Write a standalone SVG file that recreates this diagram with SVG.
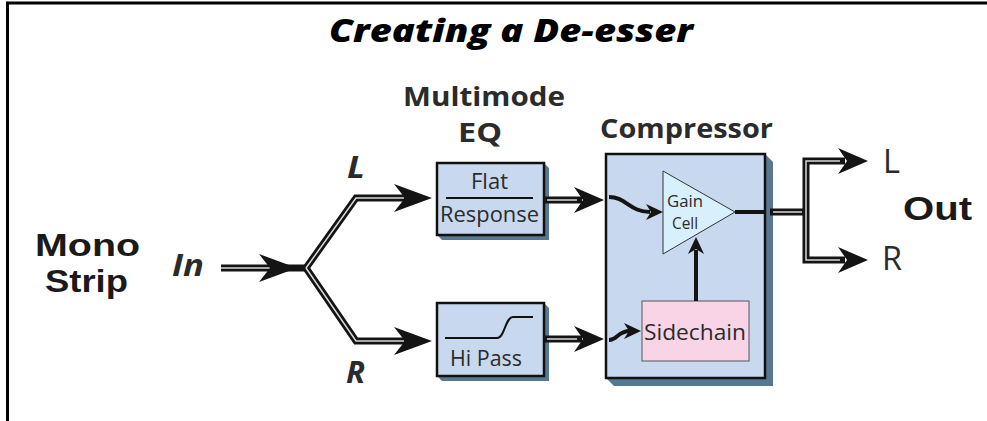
<svg xmlns="http://www.w3.org/2000/svg" xmlns:xlink="http://www.w3.org/1999/xlink" width="987" height="421" viewBox="0 0 987 421">
<style>
.t{font-family:"Open Sans","Liberation Sans",sans-serif;fill:#2b2b2b}
.title{font-size:32px;font-weight:800;font-style:italic;fill:#000}
.hd{font-size:27px;font-weight:700}
.big{font-family:"Liberation Sans","Open Sans",sans-serif;font-size:32px;font-weight:700;fill:#1a1a1a}
.lab{font-size:30px;font-weight:700;font-style:italic}
.out{font-size:33px;font-weight:400}
.box{font-size:21px;font-weight:400}
.sm{font-size:16px;font-weight:400}
.blk{fill:#c8d8ee;stroke:#111;stroke-width:2.5}
.shd{fill:#587891}
.wo{fill:none;stroke:#141414;stroke-width:7;stroke-linejoin:miter}
.wi{fill:none;stroke:#d8d8d8;stroke-width:1.5;stroke-linejoin:miter}
.sw{fill:none;stroke:#141414;stroke-width:4}
.ah{fill:#141414}
</style>
<defs>
<path id="ah" d="M0,0 L-38,-14 L-27,0 L-38,14 Z"/>
<path id="ahm" d="M0,0 L-30,-13 L-21,0 L-30,13 Z"/>
<path id="ahs" d="M0,0 L-17,-8 L-12,0 L-17,8 Z"/>
</defs>

<path d="M7.5,421 V3 H987" fill="none" stroke="#000" stroke-width="3"/>

<g id="title"><text class="t title" x="329" y="42" textLength="364" lengthAdjust="spacingAndGlyphs">Creating a De-esser</text></g>

<g id="mono-in">
<text class="t big" x="35" y="256" textLength="105" lengthAdjust="spacingAndGlyphs">Mono</text>
<text class="t big" x="45" y="292" textLength="83" lengthAdjust="spacingAndGlyphs">Strip</text>
<text class="t lab" x="172" y="276" textLength="32" lengthAdjust="spacingAndGlyphs">In</text>
<text class="t lab" x="347" y="178" textLength="18" lengthAdjust="spacingAndGlyphs">L</text>
<text class="t lab" x="346" y="383" textLength="19" lengthAdjust="spacingAndGlyphs">R</text>
</g>

<g id="eq-label">
<text class="t hd" x="403" y="106" textLength="162" lengthAdjust="spacingAndGlyphs">Multimode</text>
<text class="t hd" x="458" y="142" textLength="44" lengthAdjust="spacingAndGlyphs">EQ</text>
</g>

<g id="eq-flat">
<polygon class="shd" points="544,163 549,168 549,240 442,240 437,235"/>
<rect class="blk" x="437" y="163" width="107" height="72"/>
<text class="t box" x="471" y="189" textLength="37" lengthAdjust="spacingAndGlyphs">Flat</text>
<line x1="446" y1="198" x2="533" y2="198" stroke="#111" stroke-width="2.2"/>
<text class="t box" x="440" y="222" textLength="99" lengthAdjust="spacingAndGlyphs">Response</text>
</g>

<g id="eq-hipass">
<polygon class="shd" points="544,303 549,308 549,381 442,381 437,376"/>
<rect class="blk" x="437" y="303" width="107" height="73"/>
<path d="M445,338 H497 C505,338 505,317 513,317 H533" fill="none" stroke="#111" stroke-width="2"/>
<text class="t box" x="450" y="366" textLength="72" lengthAdjust="spacingAndGlyphs">Hi Pass</text>
</g>

<g id="compressor">
<text class="t hd" x="600" y="138" textLength="173" lengthAdjust="spacingAndGlyphs">Compressor</text>
<polygon class="shd" points="765,154 773,162 773,386 614,386 606,378"/>
<rect class="blk" x="606" y="154" width="159" height="224" stroke-width="3"/>
</g>

<g id="gain-cell">
<polygon points="663,171 735,212 663,254" fill="#d8f0fb" stroke="#333" stroke-width="1"/>
<text class="t sm" x="667" y="207" textLength="36" lengthAdjust="spacingAndGlyphs">Gain</text>
<text class="t sm" x="672" y="229" textLength="26" lengthAdjust="spacingAndGlyphs">Cell</text>
</g>

<g id="sidechain">
<rect x="642" y="301" width="107" height="60" fill="#f9d4e6" stroke="#555" stroke-width="1"/>
<text class="t" x="644" y="340" font-size="22" textLength="102" lengthAdjust="spacingAndGlyphs">Sidechain</text>
</g>

<g id="out-label">
<text class="t out" x="883" y="173" textLength="17" lengthAdjust="spacingAndGlyphs">L</text>
<text class="t out" x="882" y="270" textLength="20" lengthAdjust="spacingAndGlyphs">R</text>
<text class="t big" x="903" y="220" textLength="69" lengthAdjust="spacingAndGlyphs" style="font-size:33px">Out</text>
</g>

<g id="connectors">
<path class="wo" d="M221,268 H306"/>
<path class="wo" d="M306,268 L356,198 H410"/>
<path class="wo" d="M306,268 L356,341 H410"/>
<path class="wo" d="M544,200 H582"/>
<path class="wo" d="M544,339 H582"/>
<path class="wo" d="M770,212 H806"/>
<path class="wo" d="M845,161 H806 V260 H845"/>
<path class="wi" d="M221,268 H280"/>
<path class="wi" d="M306,268 L356,198 H404"/>
<path class="wi" d="M306,268 L356,341 H404"/>
<path class="wi" d="M547,200 H577"/>
<path class="wi" d="M547,339 H577"/>
<path class="wi" d="M773,212 H802"/>
<path class="wi" d="M840,161 H806 V260 H840"/>
<use href="#ah" class="ah" transform="translate(297,268)"/>
<use href="#ah" class="ah" transform="translate(432,198)"/>
<use href="#ah" class="ah" transform="translate(432,341)"/>
<use href="#ahm" class="ah" transform="translate(604,200)"/>
<use href="#ahm" class="ah" transform="translate(604,339)"/>
<use href="#ahm" class="ah" transform="translate(868,161)"/>
<use href="#ahm" class="ah" transform="translate(868,260)"/>
<path class="sw" d="M735,212 H765"/>
<path class="sw" d="M609,197 C626,197 630,212 650,212"/>
<use href="#ahs" class="ah" transform="translate(663,212)"/>
<path class="sw" d="M609,340 C618,340 617,331 630,331"/>
<use href="#ahs" class="ah" transform="translate(641,331)"/>
<path class="sw" d="M696,301 V250"/>
<use href="#ahs" class="ah" transform="translate(696,237) rotate(-90)"/>
</g>
</svg>
